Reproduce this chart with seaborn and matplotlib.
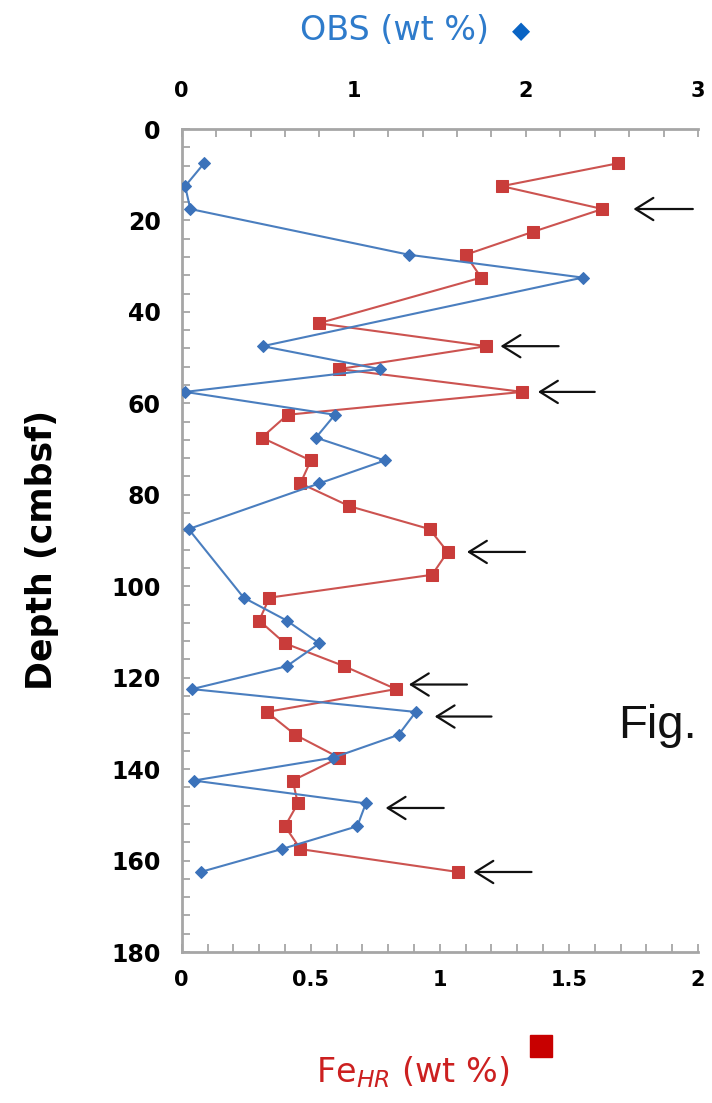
import matplotlib
matplotlib.use("Agg")
import matplotlib.pyplot as plt
import matplotlib.patches as mpatches
from matplotlib.ticker import MultipleLocator
import seaborn as sns
import pandas as pd

# ---- data ----
depth_fe = [7.5, 12.5, 17.5, 22.5, 27.5, 32.5, 42.5, 47.5, 52.5, 57.5, 62.5, 67.5,
            72.5, 77.5, 82.5, 87.5, 92.5, 97.5, 102.5, 107.5, 112.5, 117.5, 122.5,
            127.5, 132.5, 137.5, 142.5, 147.5, 152.5, 157.5, 162.5]
fe_hr = [1.69, 1.24, 1.63, 1.36, 1.10, 1.16, 0.53, 1.18, 0.61, 1.32, 0.41, 0.31,
         0.50, 0.46, 0.65, 0.96, 1.03, 0.97, 0.34, 0.30, 0.40, 0.63, 0.83,
         0.33, 0.44, 0.61, 0.43, 0.45, 0.40, 0.46, 1.07]

depth_obs = [7.5, 12.5, 17.5, 27.5, 32.5, 47.5, 52.5, 57.5, 62.5, 67.5, 72.5, 77.5,
             87.5, 102.5, 107.5, 112.5, 117.5, 122.5, 127.5, 132.5, 137.5, 142.5,
             147.5, 152.5, 157.5, 162.5]
obs = [0.13, 0.02, 0.05, 1.32, 2.33, 0.47, 1.15, 0.02, 0.89, 0.78, 1.18, 0.80,
       0.04, 0.36, 0.61, 0.80, 0.61, 0.06, 1.36, 1.26, 0.88, 0.07,
       1.07, 1.02, 0.58, 0.11]

# arrows: (depth, tip FeHR, tail FeHR)
arrow_depth = [17.5, 47.5, 57.5, 92.5, 121.5, 128.5, 148.5, 162.5]
arrow_tip = [1.75, 1.235, 1.38, 1.105, 0.88, 0.98, 0.79, 1.13]
arrow_tail = [1.98, 1.46, 1.60, 1.33, 1.105, 1.20, 1.015, 1.355]

y_ticks = list(range(0, 181, 20))
fe_ticks = [0, 0.5, 1, 1.5, 2]
fe_ticklabels = ["0", "0.5", "1", "1.5", "2"]
obs_ticks = [0, 1, 2, 3]

df_fe = pd.DataFrame({"depth": depth_fe, "fe": fe_hr})
df_obs = pd.DataFrame({"depth": depth_obs, "obs": obs})

sns.set_style("white")
plt.rcParams["font.family"] = ["DejaVu Sans"]

W, H = 712, 1103
fig = plt.figure(figsize=(W / 100, H / 100), dpi=100)
ax = fig.add_axes([181.7 / W, 1 - 952 / H, (698 - 181.7) / W, 823 / H])
ax2 = ax.twiny()

blue_line = "#4A7EBF"
blue_mark = "#3B72BA"
red_line = "#CC5350"
red_mark = "#C93C3A"
spine_c = "#A6A6A6"

sns.lineplot(data=df_fe, x="fe", y="depth", sort=False, estimator=None, ax=ax,
             color=red_line, lw=1.5, marker="s", markersize=8.5,
             markerfacecolor=red_mark, markeredgecolor=red_mark, zorder=3)
sns.lineplot(data=df_obs, x="obs", y="depth", sort=False, estimator=None, ax=ax2,
             color=blue_line, lw=1.5, marker="D", markersize=6.5,
             markerfacecolor=blue_mark, markeredgecolor=blue_mark, zorder=3)

ax.set_xlim(0, 2)
ax.set_ylim(180, 0)
ax2.set_xlim(0, 3)
ax2.set_ylim(180, 0)

ax.set_xlabel("")
ax.set_ylabel("")
ax2.set_xlabel("")
ax2.set_ylabel("")

ax.set_xticks(fe_ticks)
ax.set_xticklabels(fe_ticklabels)
ax.xaxis.set_minor_locator(MultipleLocator(0.1))
ax.set_yticks(y_ticks)
ax.yaxis.set_minor_locator(MultipleLocator(4))
ax2.set_xticks(obs_ticks)
ax2.xaxis.set_minor_locator(MultipleLocator(0.2))

for a in (ax, ax2):
    for s in a.spines.values():
        s.set_color(spine_c)
        s.set_linewidth(2)
    a.spines["right"].set_visible(False)

ax.spines["top"].set_visible(False)
ax2.spines["left"].set_visible(False)
ax2.spines["bottom"].set_visible(False)

ax.tick_params(axis="x", which="both", direction="in", length=6, width=1.3,
               color=spine_c, labelsize=15, pad=13, bottom=True, top=False,
               labelcolor="black")
ax.tick_params(axis="y", which="both", direction="in", length=6, width=1.3,
               color=spine_c, labelsize=17, pad=15, left=True, right=False,
               labelcolor="black")
ax2.tick_params(axis="x", which="both", direction="in", length=6, width=1.3,
                color=spine_c, labelsize=15, pad=20, top=True, bottom=False,
                labelcolor="black")
for lab in ax.get_xticklabels() + ax.get_yticklabels() + ax2.get_xticklabels():
    lab.set_fontweight("bold")

for d, tip, tail in zip(arrow_depth, arrow_tip, arrow_tail):
    ax.annotate("", xy=(tip, d), xytext=(tail, d), xycoords="data", textcoords="data",
                arrowprops=dict(arrowstyle="->,head_length=0.8,head_width=0.5",
                                mutation_scale=16, lw=1.6, color="#111111",
                                shrinkA=0, shrinkB=0), zorder=4)

# axis titles
fig.text(394 / W, 1 - 31 / H, "OBS (wt %)", color="#2E7BCB", fontsize=24,
         ha="center", va="center")
fig.text(521 / W, 1 - 31 / H, "\u25C6", color="#0A64C4", fontsize=17,
         ha="center", va="center")
fig.text(413 / W, 1 - 1072 / H, r"Fe$_{HR}$ (wt %)", color="#CC2020", fontsize=24,
         ha="center", va="center")
fig.patches.append(mpatches.Rectangle((530 / W, 1 - 1057 / H), 22 / W, 22 / H,
                                      transform=fig.transFigure, color="#C80000",
                                      figure=fig))
fig.text(42 / W, 1 - 550 / H, "Depth (cmbsf)", rotation=90, fontsize=25,
         fontweight="bold", ha="center", va="center", color="black")
fig.text(618 / W, 1 - 726 / H, "Fig.", fontsize=34, ha="left", va="center",
         color="#111111", family=["Liberation Sans", "DejaVu Sans"])

fig.savefig("out.png", dpi=100)
